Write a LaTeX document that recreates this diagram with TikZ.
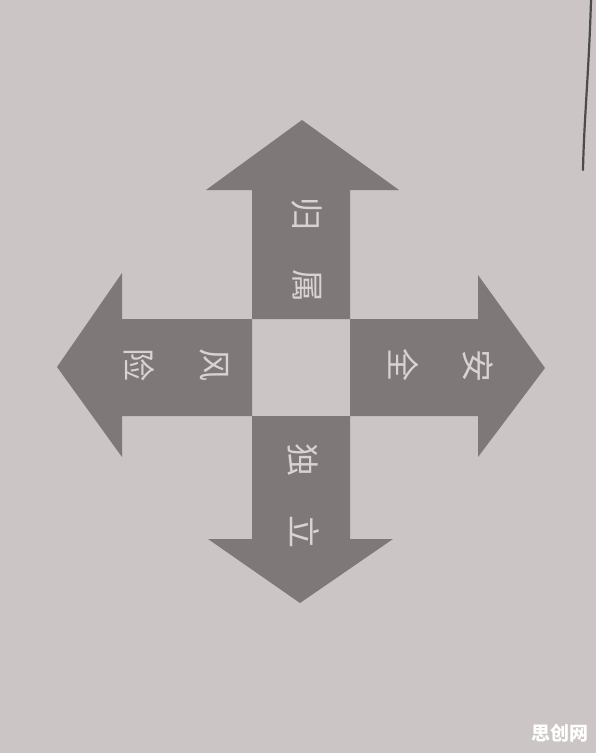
\documentclass[tikz,border=0pt]{standalone}
\usepackage{fontspec}
\newfontfamily\cjk{Noto Sans CJK SC}
\usetikzlibrary{calc}
\definecolor{paper}{RGB}{203,197,197}
\definecolor{arrowgray}{RGB}{126,120,120}
\definecolor{chalk}{RGB}{216,211,211}
\tikzstyle{arrowpart}=[fill=arrowgray]
\tikzstyle{glyph}=[text=chalk, inner sep=0pt, rotate=-90, font=\cjk\fontsize{33}{33}\selectfont]
\tikzstyle{stamp}=[text=white, inner sep=0pt, font=\cjk\bfseries\fontsize{19}{19}\selectfont]

\begin{document}
\begin{tikzpicture}[x=1pt,y=-1pt]
%
	\fill[paper] (0,0) rectangle (596,753);
	\useasboundingbox (0,0) rectangle (596,753);
	\coordinate (nw) at (252,319);
	\coordinate (ne) at (350,319);
	\coordinate (sw) at (252,416);
	\coordinate (se) at (350,416);
%
	\fill[arrowpart] (nw) -- ($ (nw) + (0,-129) $) -- (206,190) -- (302,120) -- (399,190) -- ($ (ne) + (0,-129) $) -- (ne) -- cycle;
	\fill[arrowpart] (nw) -- ($ (nw) + (-130,0) $) -- (122,273) -- (57,367) -- (122,457) -- ($ (sw) + (-130,0) $) -- (sw) -- cycle;
	\fill[arrowpart] (ne) -- ($ (ne) + (128,0) $) -- (478,275) -- (545,368) -- (478,457) -- ($ (se) + (128,0) $) -- (se) -- cycle;
	\fill[arrowpart] (sw) -- ($ (sw) + (0,123) $) -- (208,539) -- (300,603) -- (393,539) -- ($ (se) + (0,123) $) -- (se) -- cycle;
%
	\node[glyph] (gui) at (307,214) {归};
	\node[glyph] (shu) at (307,286) {属};
	\node[glyph] (feng) at (214,365) {风};
	\node[glyph] (xian) at (139,365) {险};
	\node[glyph] (quan) at (404,365) {全};
	\node[glyph] (an) at (478,366) {安};
	\node[glyph] (du) at (303,460) {独};
	\node[glyph] (li) at (305,532) {立};
%
	\draw[line width=2.2pt, black!70, line cap=round] (591,0) .. controls (589,70) and (584,120) .. (583,170);
	\node[stamp] (mark) at (560,733) {思创网};
\end{tikzpicture}
\end{document}
